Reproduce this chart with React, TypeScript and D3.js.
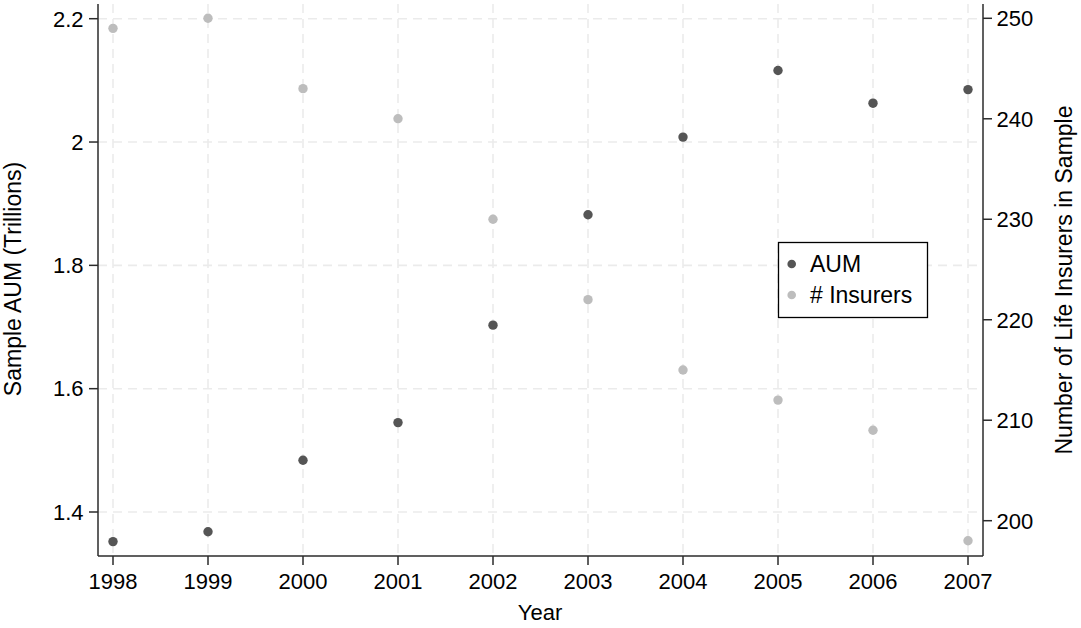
import React from "react";
import * as d3 from "d3";

const years = [1998, 1999, 2000, 2001, 2002, 2003, 2004, 2005, 2006, 2007];
const aum = [1.352, 1.368, 1.484, 1.545, 1.703, 1.882, 2.008, 2.116, 2.063, 2.085];
const insurers = [249, 250, 243, 240, 230, 222, 215, 212, 209, 198];
const leftTicks = [1.4, 1.6, 1.8, 2.0, 2.2];
const rightTicks = [200, 210, 220, 230, 240, 250];
const legendLabels = ["AUM", "# Insurers"];

const W = 1081;
const H = 628;
const FONT = "'Liberation Sans', Arial, Helvetica, sans-serif";
const DARK = "#555555";
const LIGHT = "#bdbdbd";
const AXIS = "#2b2b2b";

export default function App() {
  const x = d3.scaleLinear().domain([1998, 2007]).range([113, 968]);
  const yL = d3.scaleLinear().domain([1.4, 2.2]).range([512, 18.7]);
  const yR = d3.scaleLinear().domain([200, 250]).range([520.7, 18.3]);
  const left = 98;
  const right = 983;
  const top = 4;
  const bottom = 556;
  const fmt = (v: number) => (Math.abs(v - 2) < 1e-9 ? "2" : d3.format(".1f")(v));

  return (
    <svg
      width={W}
      height={H}
      style={{ position: "absolute", left: 0, top: 0, background: "#fff" }}
      fontFamily={FONT}
    >
      <rect x={0} y={0} width={W} height={H} fill="#fff" />
      {/* grid */}
      {leftTicks.map((t) => (
        <line key={"gh" + t} x1={left} x2={right} y1={yL(t)} y2={yL(t)} stroke="#ebebeb" strokeWidth={1.6} strokeDasharray="9 6" />
      ))}
      {years.map((t) => (
        <line key={"gv" + t} x1={x(t)} x2={x(t)} y1={top} y2={bottom} stroke="#ebebeb" strokeWidth={1.6} strokeDasharray="9 6" />
      ))}
      {/* axes */}
      <line x1={left} x2={left} y1={top} y2={bottom} stroke={AXIS} strokeWidth={1.5} />
      <line x1={right} x2={right} y1={top} y2={bottom} stroke={AXIS} strokeWidth={1.5} />
      <line x1={left} x2={right} y1={bottom} y2={bottom} stroke={AXIS} strokeWidth={1.5} />
      {leftTicks.map((t) => (
        <g key={"lt" + t}>
          <line x1={left - 9} x2={left} y1={yL(t)} y2={yL(t)} stroke={AXIS} strokeWidth={1.5} />
          <text x={83.5} y={yL(t) + 7.8} textAnchor="end" fontSize={22} fill="#000">{fmt(t)}</text>
        </g>
      ))}
      {rightTicks.map((t) => (
        <g key={"rt" + t}>
          <line x1={right} x2={right + 9} y1={yR(t)} y2={yR(t)} stroke={AXIS} strokeWidth={1.5} />
          <text x={996.5} y={yR(t) + 7.8} textAnchor="start" fontSize={22} fill="#000">{t}</text>
        </g>
      ))}
      {years.map((t) => (
        <g key={"xt" + t}>
          <line x1={x(t)} x2={x(t)} y1={bottom} y2={bottom + 9} stroke={AXIS} strokeWidth={1.5} />
          <text x={x(t)} y={588.5} textAnchor="middle" fontSize={22} fill="#000">{t}</text>
        </g>
      ))}
      {/* titles */}
      <text x={540} y={620} textAnchor="middle" fontSize={22} fill="#000">Year</text>
      <text transform={`translate(20.5,279) rotate(-90)`} textAnchor="middle" fontSize={23} fill="#000">Sample AUM (Trillions)</text>
      <text transform={`translate(1072,280) rotate(-90)`} textAnchor="middle" fontSize={23} fill="#000">Number of Life Insurers in Sample</text>
      {/* points */}
      {years.map((yr, i) => (
        <circle key={"ins" + yr} cx={x(yr)} cy={yR(insurers[i])} r={4.7} fill={LIGHT} />
      ))}
      {years.map((yr, i) => (
        <circle key={"aum" + yr} cx={x(yr)} cy={yL(aum[i])} r={4.7} fill={DARK} />
      ))}
      {/* legend */}
      <rect x={778.5} y={242.5} width={149} height={75} fill="#fff" stroke="#000" strokeWidth={1.3} />
      {legendLabels.map((lab, i) => (
        <g key={lab}>
          <circle cx={791.7} cy={264 + i * 31} r={4.3} fill={i === 0 ? DARK : LIGHT} />
          <text x={810} y={272 + i * 31} fontSize={23} fill="#000">{lab}</text>
        </g>
      ))}
    </svg>
  );
}
